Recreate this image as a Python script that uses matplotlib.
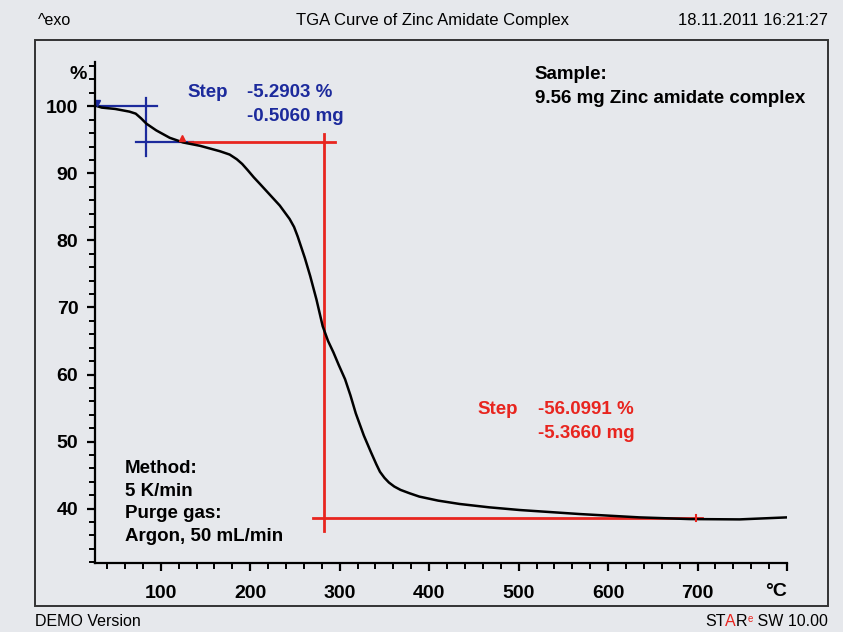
import numpy as np
import matplotlib.pyplot as plt
from matplotlib.patches import Rectangle
from matplotlib.offsetbox import TextArea, HPacker, AnchoredOffsetbox

# TGA curve (temperature in °C, mass in %)
temp = [27, 34, 49, 65, 72, 78, 84, 95, 110, 125, 144, 166, 177, 185, 191,
        197, 204, 211, 222, 233, 244, 249, 253, 257, 261, 267, 274, 281, 287,
        293, 299, 306, 312, 318, 327, 335, 341, 345, 350, 355, 361, 368, 378,
        389, 410, 434, 467, 501, 568, 635, 691, 747, 800]
mass = [100.1, 99.8, 99.6, 99.2, 98.9, 98.2, 97.4, 96.4, 95.3, 94.6, 94.1,
        93.3, 92.8, 92.1, 91.4, 90.5, 89.4, 88.4, 86.8, 85.2, 83.2, 82.0, 80.6,
        79.0, 77.4, 74.7, 71.2, 67.2, 65.0, 63.3, 61.4, 59.3, 56.9, 54.2, 50.9,
        48.4, 46.6, 45.5, 44.6, 43.9, 43.3, 42.8, 42.3, 41.8, 41.2, 40.7, 40.2,
        39.8, 39.2, 38.7, 38.45, 38.4, 38.7]

# step evaluations
step1_pct, step1_mg = -5.2903, -0.5060
step2_pct, step2_mg = -56.0991, -5.3660
level0 = 100.0
level1 = level0 + step1_pct
level2 = level1 + step2_pct
step1_x = 84      # temperature of blue vertical
step2_x = 283     # temperature of red vertical

x_ticks = [100, 200, 300, 400, 500, 600, 700, 800]
x_labels = ['100', '200', '300', '400', '500', '600', '700', '']
y_ticks = [40, 50, 60, 70, 80, 90, 100]

bg = '#e6e8ec'
blue = '#1c2a9c'
red = '#e8251f'

plt.rcParams['font.family'] = ['Liberation Sans', 'DejaVu Sans']

fig = plt.figure(figsize=(8.43, 6.32), dpi=100, facecolor=bg)
ax = fig.add_axes([0.1127, 0.1092, 0.8209, 0.7927])
ax.set_facecolor('none')

# outer frame
fig.patches.append(Rectangle((0.0415, 0.0411), 0.9407, 0.8956, transform=fig.transFigure,
                             fill=False, edgecolor='#333333', linewidth=1.4))

# evaluation lines
ax.plot([27, 96], [level0, level0], color=blue, lw=1.6)
ax.plot([step1_x, step1_x], [101.3, 92.6], color=blue, lw=1.6)
ax.plot([72, 136], [level1, level1], color=blue, lw=1.6)
ax.plot([132, 295], [level1, level1], color=red, lw=2)
ax.plot([step2_x, step2_x], [95.9, 36.6], color=red, lw=2)
ax.plot([270, 705], [level2, level2], color=red, lw=2)

# curve
ax.plot(temp, mass, color='black', lw=1.8, solid_joinstyle='round')

# step limit markers
ax.plot([29], [100.55], marker='v', color=blue, ms=4)
ax.plot([124], [95.25], marker='^', color=red, ms=4)
ax.plot([698, 698], [38.2, 39.0], color=red, lw=1.5)

ax.set_xlim(26.5, 800)
ax.set_ylim(31.9, 106.6)
ax.set_xticks(x_ticks)
ax.set_xticklabels(x_labels)
ax.set_xticks(np.arange(40, 800, 20), minor=True)
ax.set_yticks(y_ticks)
ax.set_yticks(np.arange(32, 107, 2), minor=True)

for s in ['top', 'right']:
    ax.spines[s].set_visible(False)
for s in ['left', 'bottom']:
    ax.spines[s].set_linewidth(1.6)
ax.tick_params(which='major', length=6, width=1.6, labelsize=14, pad=6)
ax.tick_params(axis='x', which='major', pad=10)
ax.tick_params(which='minor', length=4, width=1.4)
for lab in ax.get_xticklabels() + ax.get_yticklabels():
    lab.set_fontweight('bold')

ax.text(800, 31.9 - 4.3, '°C', ha='right', va='center', fontsize=14, fontweight='bold')
ax.text(-0.012, 104.7, '%', transform=ax.get_yaxis_transform(), ha='right', va='center',
        fontsize=14, fontweight='bold')

# annotations
fs = 13.5
ax.text(130, 102.1, 'Step', color=blue, fontsize=fs, fontweight='bold', va='center')
ax.text(196, 102.1, f'{step1_pct:.4f} %', color=blue, fontsize=fs, fontweight='bold', va='center')
ax.text(196, 98.5, f'{step1_mg:.4f} mg', color=blue, fontsize=fs, fontweight='bold', va='center')

ax.text(454, 54.8, 'Step', color=red, fontsize=fs, fontweight='bold', va='center')
ax.text(522, 54.8, f'{step2_pct:.4f} %', color=red, fontsize=fs, fontweight='bold', va='center')
ax.text(522, 51.2, f'{step2_mg:.4f} mg', color=red, fontsize=fs, fontweight='bold', va='center')

ax.text(518, 104.8, 'Sample:', fontsize=fs, fontweight='bold', va='center')
ax.text(518, 101.2, '9.56 mg Zinc amidate complex', fontsize=fs, fontweight='bold', va='center')

for i, line in enumerate(['Method:', '5 K/min', 'Purge gas:', 'Argon, 50 mL/min']):
    ax.text(60, 46.0 - i * 3.37, line, fontsize=fs, fontweight='bold', va='center')

# header and footer
narrow = ['Liberation Sans Narrow', 'Liberation Sans', 'DejaVu Sans']
fig.text(0.045, 0.968, '^exo', fontsize=11.5, family=narrow, va='center')
fig.text(0.513, 0.968, 'TGA Curve of Zinc Amidate Complex', fontsize=12, family=narrow,
         ha='center', va='center')
fig.text(0.982, 0.968, '18.11.2011 16:21:27', fontsize=12, family=narrow, ha='right', va='center')
fig.text(0.042, 0.016, 'DEMO Version', fontsize=11.5, family=narrow, va='center')

parts = [TextArea('ST', textprops=dict(fontsize=11.5, family=narrow)),
         TextArea('A', textprops=dict(fontsize=11.5, family=narrow, color=red)),
         TextArea('R', textprops=dict(fontsize=11.5, family=narrow)),
         TextArea('e', textprops=dict(fontsize=7, family=narrow, color=red)),
         TextArea(' SW 10.00', textprops=dict(fontsize=11.5, family=narrow))]
box = HPacker(children=parts, align='top', pad=0, sep=0)
anch = AnchoredOffsetbox(loc='center right', child=box, pad=0, borderpad=0, frameon=False,
                         bbox_to_anchor=(0.982, 0.016), bbox_transform=fig.transFigure)
fig.add_artist(anch)

plt.savefig('out.png', dpi=100, facecolor=bg)
